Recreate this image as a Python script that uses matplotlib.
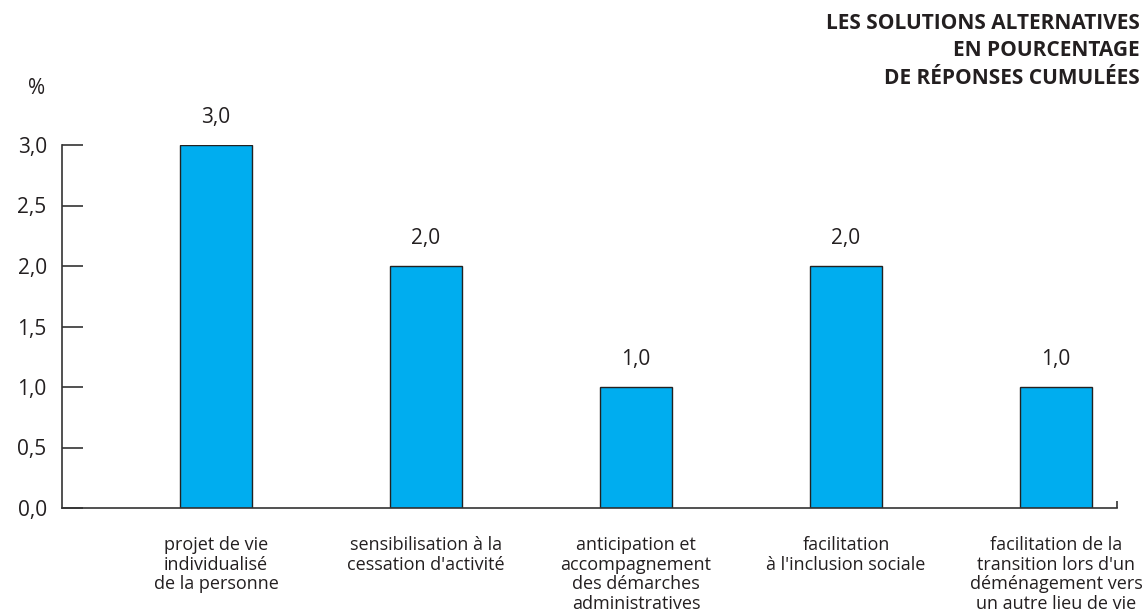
import matplotlib.pyplot as plt

plt.rcParams['font.family'] = ['Open Sans', 'DejaVu Sans']

categories = [
    "projet de vie\nindividualisé\nde la personne",
    "sensibilisation à la\ncessation d'activité",
    "anticipation et\naccompagnement\ndes démarches\nadministratives",
    "facilitation\nà l'inclusion sociale",
    "facilitation de la\ntransition lors d'un\ndéménagement vers\nun autre lieu de vie",
]
values = [3.0, 2.0, 1.0, 2.0, 1.0]
yticks = [0.0, 0.5, 1.0, 1.5, 2.0, 2.5, 3.0]

text_col = '#231f20'
bar_col = '#00adef'

fig = plt.figure(figsize=(11.44, 6.16), dpi=100)
ax = fig.add_axes([62 / 1144, 1 - 508 / 616, (1117 - 62) / 1144, (508 - 145) / 616])

x = list(range(len(values)))
bars = ax.bar(x, values, width=0.343, color=bar_col, edgecolor='#222222', linewidth=1.0)

for xi, v in zip(x, values):
    ax.annotate(f"{v:.1f}".replace('.', ','), (xi, v), xytext=(0, 16),
                textcoords='offset points', ha='center', va='baseline',
                fontsize=15, color=text_col)

ax.set_xlim(-0.733, 4.29)
ax.set_ylim(0, 3)
ax.set_yticks(yticks)
ax.set_yticklabels([f"{t:.1f}".replace('.', ',') for t in yticks], fontsize=15, color=text_col)
ax.tick_params(axis='y', direction='in', length=15, width=1.2, color='#333333', pad=11)

ax.set_xticks(x)
ax.set_xticklabels(categories, fontsize=13, color=text_col, linespacing=1.13, va='top')
ax.tick_params(axis='x', length=0, pad=20)
# small end mark at the right of the baseline
ax.set_xticks([4.29], minor=True)
ax.tick_params(axis='x', which='minor', direction='in', length=5, width=1.2, color='#333333')

for s in ['top', 'right']:
    ax.spines[s].set_visible(False)
for s in ['left', 'bottom']:
    ax.spines[s].set_linewidth(1.2)
    ax.spines[s].set_color('#333333')

fig.text(37 / 1144, 1 - 89 / 616, '%', fontsize=15, color=text_col, ha='center', va='center')
fig.text(1140 / 1144, 1 - 13 / 616,
         "LES SOLUTIONS ALTERNATIVES\nEN POURCENTAGE\nDE RÉPONSES CUMULÉES",
         ha='right', va='top', fontsize=15, fontweight='bold', color=text_col, linespacing=1.4)

fig.savefig('out.png', dpi=100)
